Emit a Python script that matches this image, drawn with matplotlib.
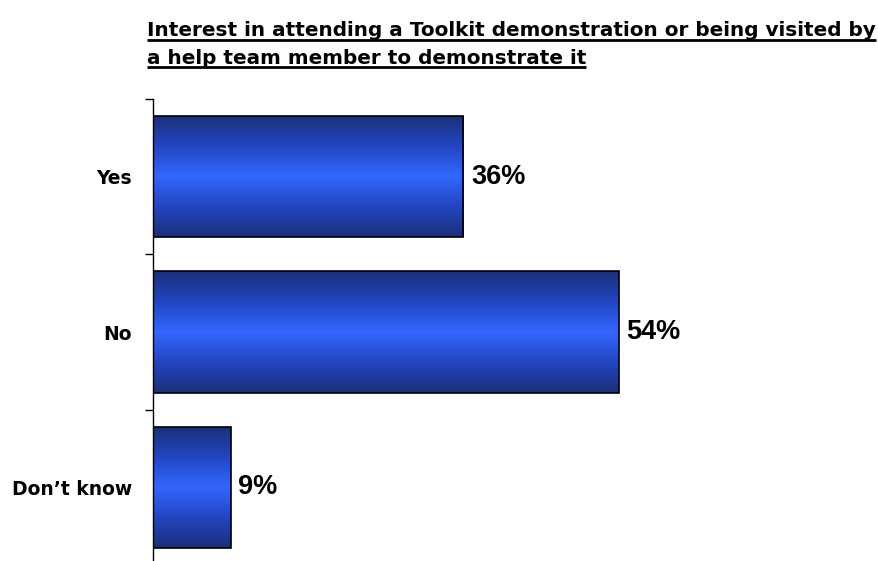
import matplotlib
matplotlib.use("Agg")
import matplotlib.pyplot as plt
import numpy as np
from matplotlib.colors import LinearSegmentedColormap
from matplotlib.lines import Line2D

categories = ["Yes", "No", "Don\u2019t know"]
values = [36, 54, 9]
value_labels = ["36%", "54%", "9%"]
title_lines = [
    "Interest in attending a Toolkit demonstration or being visited by",
    "a help team member to demonstrate it",
]

plt.rcParams["font.family"] = ["DejaVu Sans"]

fig = plt.figure(figsize=(8.79, 5.61), dpi=100)
W, H = 879, 561
ax_left, ax_right = 153 / W, 843 / W
ax_top, ax_bottom = 1 - 99 / H, 1 - 565 / H
ax = fig.add_axes([ax_left, ax_bottom, ax_right - ax_left, ax_top - ax_bottom])

bar_h = 0.78
y = np.arange(len(categories))

grad_cmap = LinearSegmentedColormap.from_list(
    "bar", ["#1b2f78", "#2246c0", "#3366ff", "#2246c0", "#1b2f78"])
grad = np.linspace(0, 1, 256).reshape(-1, 1)

bars = ax.barh(y, values, height=bar_h, color="none", edgecolor="black",
               linewidth=1.2, zorder=3)
for rect in bars:
    x0, y0 = rect.get_x(), rect.get_y()
    w, h = rect.get_width(), rect.get_height()
    im = ax.imshow(grad, cmap=grad_cmap, aspect="auto",
                   extent=[x0, x0 + w, y0 + h, y0], zorder=2,
                   interpolation="bicubic")
    im.set_clip_path(rect)
ax.set_xlim(0, 80)
ax.set_ylim(len(categories) - 0.5, -0.5)

for yi, v, lab in zip(y, values, value_labels):
    ax.text(v + 0.9, yi, lab, va="center", ha="left", fontsize=19.5,
            fontweight="bold", color="black",
            family=["Liberation Sans", "DejaVu Sans"])

for s in ["top", "right", "bottom"]:
    ax.spines[s].set_visible(False)
ax.spines["left"].set_linewidth(1.0)
ax.set_xticks([])
ax.set_yticks(y)
ax.set_yticklabels(categories, fontsize=13.5, fontweight="bold")
ax.tick_params(axis="y", which="major", length=0, pad=15)
ax.set_yticks(np.arange(-0.5, len(categories)), minor=True)
ax.tick_params(axis="y", which="minor", length=6, width=1.0, direction="out")

# two-line underlined heading
renderer = fig.canvas.get_renderer()
baselines = [36.5, 63.5]
for line, b in zip(title_lines, baselines):
    t = fig.text(147 / W, 1 - b / H, line, ha="left", va="baseline",
                 fontsize=14.4, fontweight="bold")
    bb = t.get_window_extent(renderer=renderer)
    uy = 1 - (b + 3.8) / H
    fig.add_artist(Line2D([bb.x0 / W, bb.x1 / W], [uy, uy],
                          transform=fig.transFigure, color="black",
                          linewidth=2.0, solid_capstyle="butt"))

fig.savefig("out.png", dpi=100)
